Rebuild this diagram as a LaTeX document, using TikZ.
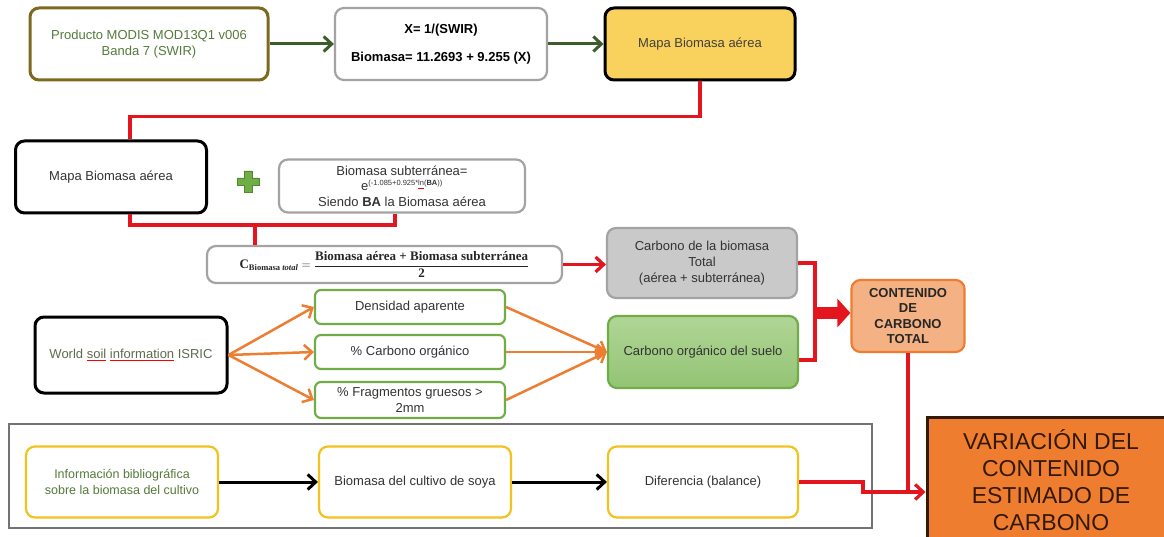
\documentclass[tikz,border=0pt]{standalone}
\usepackage{fontspec}
\setmainfont{Liberation Sans}
\newfontfamily\serifbf{Liberation Serif}
\usepackage{amsmath}
\usetikzlibrary{arrows.meta,calc}
\definecolor{olivebd}{HTML}{7D6A1E}
\definecolor{gtext}{HTML}{557A3A}
\definecolor{dgreen}{HTML}{3D5E2B}
\definecolor{graybd}{HTML}{A3A3A3}
\definecolor{ymapf}{HTML}{F9D25E}
\definecolor{redl}{HTML}{E3151E}
\definecolor{plusg}{HTML}{70AD47}
\definecolor{plusd}{HTML}{4E8A2E}
\definecolor{cgray}{HTML}{C9C9C9}
\definecolor{gtop}{HTML}{B0D696}
\definecolor{gbot}{HTML}{93C474}
\definecolor{gbd}{HTML}{70AD47}
\definecolor{orl}{HTML}{ED7D31}
\definecolor{salm}{HTML}{F4B183}
\definecolor{varf}{HTML}{EE7D30}
\definecolor{ybd}{HTML}{F2C21E}
\definecolor{dtext}{HTML}{333333}
\definecolor{wtext}{HTML}{5E6B4E}
\newcommand\fs{\fontsize{13}{16}\selectfont}
\newcommand\redul[1]{\setbox0\hbox{#1}\rlap{\textcolor{red}{\rule[-2.5pt]{\wd0}{0.7pt}}}\box0\relax}
\tikzset{
  box/.style={draw, rounded corners=9pt, align=center, inner sep=2pt, font=\fs, text=dtext},
  blackbox/.style={box, line width=3pt, draw=black, fill=white},
  graybox/.style={box, line width=2.2pt, draw=graybd, fill=white},
  greenbox/.style={box, line width=2.2pt, draw=gbd, fill=white, rounded corners=6pt},
  yelbox/.style={box, line width=2.2pt, draw=ybd, fill=white},
  barb/.style={-{Straight Barb[length=8pt,width=15pt]}},
  garrow/.style={draw=dgreen, line width=3pt, barb},
  redline/.style={draw=redl, line width=3.2pt},
  rarrow/.style={redline, barb},
  oarrow/.style={draw=orl, line width=2.5pt, barb},
  karrow/.style={draw=black, line width=3pt, barb},
}
\begin{document}
\begin{tikzpicture}[x=1pt,y=-1pt]
\useasboundingbox (0,0) rectangle (1164,537);
\clip (0,0) rectangle (1164,537);
\fill[white] (0,0) rectangle (1164,537);

% top row
\node[box, line width=3pt, draw=olivebd, fill=white, text=gtext, minimum width=238pt, minimum height=72pt] (modis) at (149,44) {Producto MODIS MOD13Q1 v006\\Banda 7 (SWIR)};
\node[graybox, text=black, minimum width=212pt, minimum height=72pt] (form) at (441,44) {\bfseries X= 1/(SWIR)\\[12pt]\bfseries Biomasa= 11.2693 + 9.255 (X)};
\node[box, line width=3pt, draw=black, fill=ymapf, text=black!85!yellow, minimum width=190pt, minimum height=72pt] (ymap) at (700,44) {Mapa Biomasa aérea};
\draw[garrow] (modis.east) -- (form.west);
\draw[garrow] (form.east) -- (ymap.west);

% second row
\node[blackbox, minimum width=191pt, minimum height=72pt] (map2) at (111,177) {Mapa Biomasa aérea};
\node[graybox, minimum width=246pt, minimum height=53pt, inner sep=1pt] (bsub) at (402,186) {Biomasa subterránea=\\[-1pt]e\textsuperscript{\fontsize{7.5}{8}\selectfont(-1.085+0.925*\redul{ln}(\textbf{BA}))}\\[0pt]Siendo \textbf{BA} la Biomasa aérea};
\filldraw[fill=plusg, draw=plusd, line width=0.8pt] (244,171) -- (252,171) -- (252,178) -- (259,178) -- (259,185) -- (252,185) -- (252,192) -- (244,192) -- (244,185) -- (237,185) -- (237,178) -- (244,178) -- cycle;
\draw[redline] (ymap.south) -- ++(0,35) -| ([xshift=19pt]map2.north);
\coordinate (jn) at (255,225);
\draw[redline] ([xshift=19pt]map2.south) |- (jn) -| ([xshift=-7pt]bsub.south);

% formula box
\node[graybox, text=black!85, minimum width=355pt, minimum height=37pt, inner sep=1pt] (cbox) at (384.5,264.5) {\fontsize{13}{15}\selectfont\serifbf\bfseries C\textsubscript{\fontsize{8.5}{9}\selectfont Biomasa \textit{total}} $=$ $\dfrac{\text{\serifbf\bfseries Biomasa aérea + Biomasa subterránea}}{\text{\serifbf\bfseries 2}}$};
\draw[redline] (jn) -- (jn |- cbox.north);

\node[box, line width=2.2pt, draw=graybd, fill=cgray, minimum width=190pt, minimum height=70pt] (cbt) at (702,263) {Carbono de la biomasa\\Total\\(aérea + subterránea)};
\draw[rarrow] (cbox.east) -- (cbox.east -| cbt.west);

\node[box, line width=2.2pt, draw=gbd, top color=gtop, bottom color=gbot, minimum width=190pt, minimum height=72pt] (cos) at (703,352) {Carbono orgánico del suelo};

% soil row
\node[blackbox, text=wtext, minimum width=192pt, minimum height=76pt] (world) at (131,355) {World \redul{soil} \redul{information} ISRIC};
\node[greenbox, minimum width=190pt, minimum height=34pt] (dens) at (410,307) {Densidad aparente};
\node[greenbox, minimum width=190pt, minimum height=34pt] (pcarb) at (410,352) {\% Carbono orgánico};
\node[greenbox, minimum width=190pt, minimum height=36pt, inner sep=0pt, font=\fontsize{13}{15.5}\selectfont] (frag) at (410,400) {\% Fragmentos gruesos >\\2mm};
\foreach \t in {dens,pcarb,frag}{
  \draw[oarrow] (world.east) -- (\t.west);
  \draw[oarrow] (\t.east) -- (cos.west);
}

% total
\node[box, line width=2.2pt, draw=orl, fill=salm, text=black!85, minimum width=113pt, minimum height=72pt, font=\fontsize{13}{15.5}\selectfont\bfseries] (cont) at (908,316) {CONTENIDO\\DE\\CARBONO\\TOTAL};
\coordinate (br) at (815,263);
\draw[redline] (cbt.east) -- (br) |- ([yshift=-8pt]cos.east);
\coordinate (ta) at (815,313);
\draw[draw=redl, line width=12pt, -{Triangle[length=13pt,width=28pt]}] (ta) -- (ta -| cont.west);

% bottom group
\draw[draw=gray!90!black, line width=2.5pt] (9,424) rectangle (872,528);
\node[yelbox, text=gtext, minimum width=192pt, minimum height=71pt, font=\fontsize{12.5}{16}\selectfont] (info) at (122,482) {Información bibliográfica\\sobre la biomasa del cultivo};
\node[yelbox, minimum width=192pt, minimum height=71pt] (bcult) at (415,482) {Biomasa del cultivo de soya};
\node[yelbox, minimum width=190pt, minimum height=71pt] (dif) at (703,482) {Diferencia (balance)};
\draw[karrow] (info.east) -- (bcult.west);
\draw[karrow] (bcult.east) -- (dif.west);

% final
\node[draw=black!80!orange, line width=3pt, fill=varf, text=black!80!orange, align=center, minimum width=248pt, minimum height=126pt, font=\fontsize{23}{27}\selectfont] (var) at (1051,480) {VARIACIÓN DEL\\CONTENIDO\\ESTIMADO DE\\CARBONO};
\coordinate (jv) at (908,492);
\draw[redline] (cont.south) -- (jv);
\draw[rarrow] (dif.east) -- (863,482) -- (863,492) -- (var.west |- jv);
\end{tikzpicture}
\end{document}
